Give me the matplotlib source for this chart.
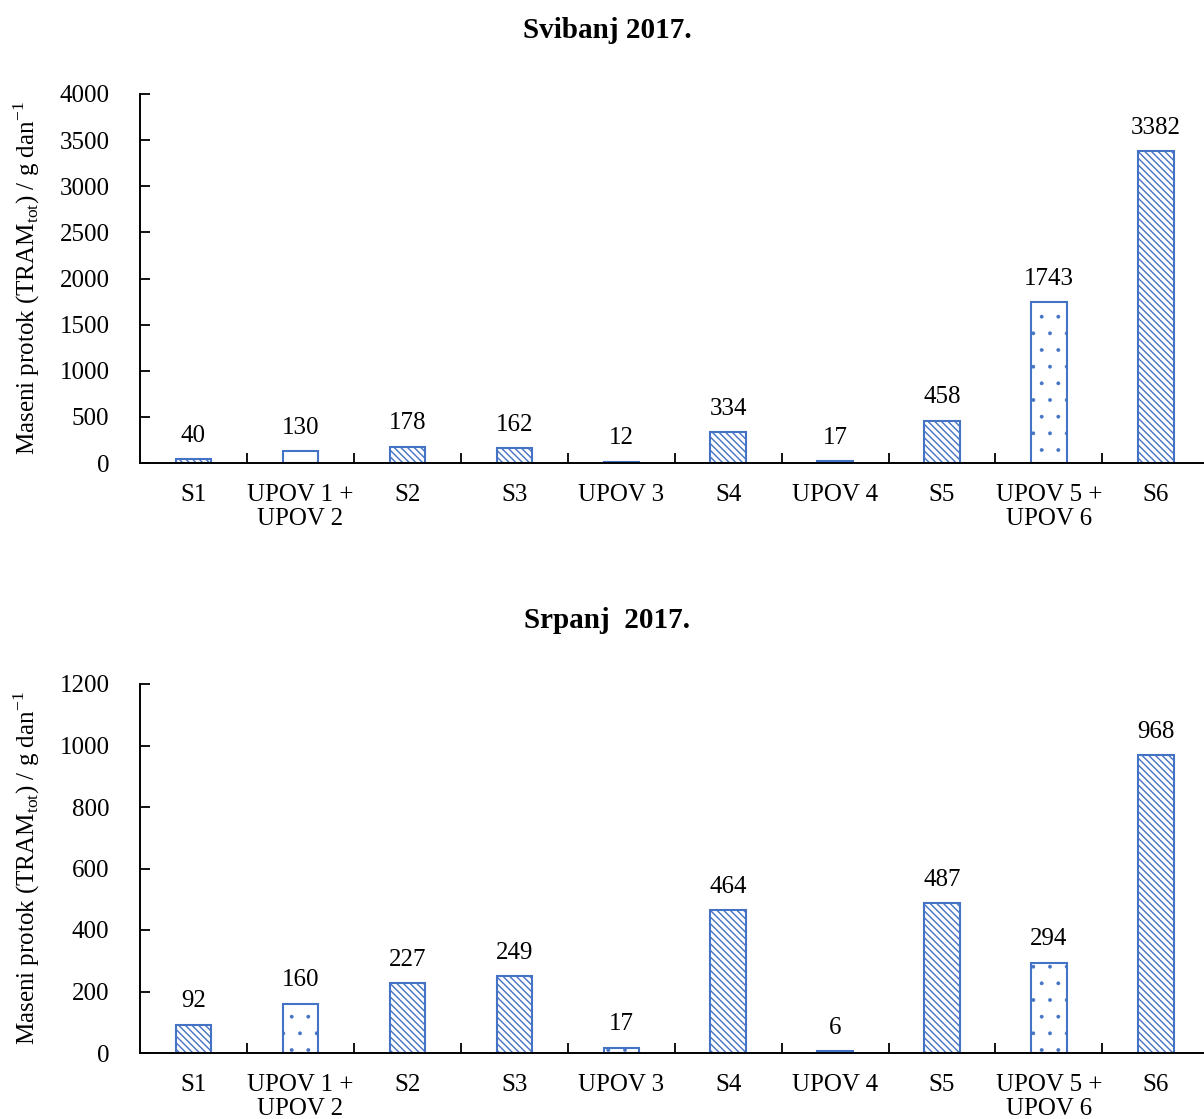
import matplotlib.pyplot as plt
import numpy as np

categories = ['S1', 'UPOV 1 +\nUPOV 2', 'S2', 'S3', 'UPOV 3', 'S4', 'UPOV 4', 'S5', 'UPOV 5 +\nUPOV 6', 'S6']
svibanj = [40, 130, 178, 162, 12, 334, 17, 458, 1743, 3382]
srpanj = [92, 160, 227, 249, 17, 464, 6, 487, 294, 968]
dotted = [False, True, False, False, True, False, True, False, True, False]

plt.rcParams['font.family'] = ['Liberation Serif', 'DejaVu Serif']
plt.rcParams['hatch.color'] = '#4472C4'

fig = plt.figure(figsize=(12.04, 11.19), dpi=100)
W, H = 1204, 1119
blue = '#4472C4'


def draw(ax, vals, ymax, step, title, title_y):
    x = np.arange(len(categories))
    vals = np.array(vals)
    dm = np.array(dotted)
    with plt.rc_context({'hatch.linewidth': 1.0}):
        ax.bar(x[~dm], vals[~dm], width=0.33, facecolor='white', edgecolor=blue,
               hatch='\\\\\\\\\\', linewidth=1.5)
    with plt.rc_context({'hatch.linewidth': 0.3}):
        ax.bar(x[dm], vals[dm], width=0.33, facecolor='white', edgecolor=blue,
               hatch='.', linewidth=1.5)
    for xi, v in zip(x, vals):
        ax.annotate(str(v), (xi, v), xytext=(0, 9), textcoords='offset points',
                    ha='center', va='bottom', fontsize=18)
    ax.set_xlim(-0.5, 9.45)
    ax.set_ylim(0, ymax)
    ax.set_yticks(np.arange(0, ymax + 1, step))
    ax.set_xticks(x)
    ax.set_xticklabels(categories, fontsize=18, linespacing=1.15)
    ax.set_xticks(np.arange(0.5, 9.0, 1), minor=True)
    ax.tick_params(axis='x', which='major', length=0, pad=15)
    ax.tick_params(axis='x', which='minor', direction='in', length=7, width=1.3)
    ax.tick_params(axis='y', direction='in', length=7, width=1.3, labelsize=18, pad=22)
    for s in ['top', 'right']:
        ax.spines[s].set_visible(False)
    for s in ['left', 'bottom']:
        ax.spines[s].set_linewidth(1.4)
    ax.set_ylabel('Maseni protok (TRAM$_{\\mathregular{tot}}$) / g dan$^{\\mathregular{-1}}$',
                  fontsize=18)
    ax.yaxis.set_label_coords(-0.092, 0.5)
    fig.text(607 / W, title_y, title, ha='center', va='center',
             fontsize=21, fontweight='bold')


ax1 = fig.add_axes([140 / W, (H - 463) / H, (W - 140) / W, 369 / H])
draw(ax1, svibanj, 4000, 500, 'Svibanj 2017.', 1 - 30 / H)
ax2 = fig.add_axes([140 / W, (H - 1053) / H, (W - 140) / W, 369 / H])
draw(ax2, srpanj, 1200, 200, 'Srpanj  2017.', 1 - 620 / H)

fig.savefig('out.png', dpi=100)
